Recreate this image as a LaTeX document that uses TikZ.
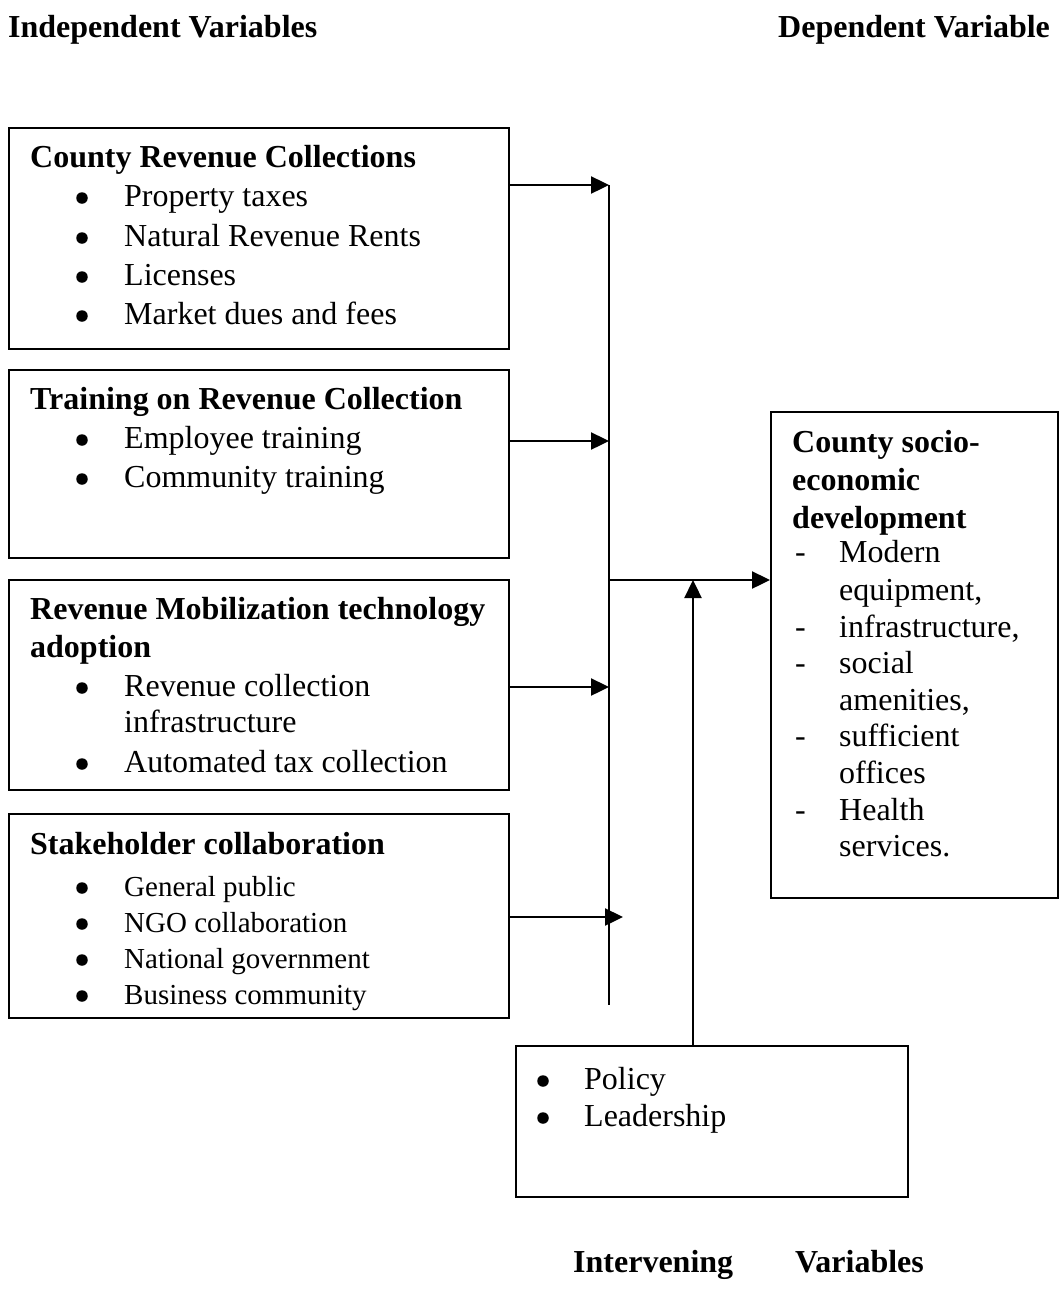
\documentclass[tikz,border=0pt]{standalone}
\usepackage{fontspec}
\setmainfont{Liberation Serif}
\usetikzlibrary{arrows.meta}
\begin{document}
\begin{tikzpicture}[x=1pt,y=-1pt,
  box/.style={draw, line width=1.8pt, inner sep=0pt, anchor=north west},
  txt/.style={anchor=base west, inner sep=0pt, font=\fontsize{32}{38}\selectfont},
  btxt/.style={anchor=base west, inner sep=0pt, font=\fontsize{32}{38}\selectfont\bfseries},
  stxt/.style={anchor=base west, inner sep=0pt, font=\fontsize{29}{35}\selectfont},
  bul/.style={circle, fill, inner sep=0pt, minimum size=11.5pt},
  conn/.style={line width=2.4pt, -{Triangle[length=18pt,width=17pt]}},
  ln/.style={line width=2.4pt}]
\useasboundingbox (0,0) rectangle (1058,1304);

% headers
\node[btxt] (hind) at (8,37) {Independent Variables};
\node[btxt] (hdep) at (778,37) {Dependent Variable};
\node[btxt] (hint1) at (573,1272) {Intervening};
\node[btxt] (hint2) at (795,1272) {Variables};

% boxes
\node[box, minimum width=500pt, minimum height=221pt] (b1) at (8,127) {};
\node[box, minimum width=500pt, minimum height=188pt] (b2) at (8,369) {};
\node[box, minimum width=500pt, minimum height=210pt] (b3) at (8,579) {};
\node[box, minimum width=500pt, minimum height=204pt] (b4) at (8,813) {};
\node[box, minimum width=287pt, minimum height=486pt] (dv) at (770,411) {};
\node[box, minimum width=392pt, minimum height=151pt] (iv) at (515,1045) {};

% box 1
\node[btxt] (t1) at (30,167) {County Revenue Collections};
\node[bul] (b1a) at (82,198) {}; \node[txt] (t1a) at (124,206) {Property taxes};
\node[bul] (b1b) at (82,238) {}; \node[txt] (t1b) at (124,246) {Natural Revenue Rents};
\node[bul] (b1c) at (82,277) {}; \node[txt] (t1c) at (124,285) {Licenses};
\node[bul] (b1d) at (82,316) {}; \node[txt] (t1d) at (124,324) {Market dues and fees};

% box 2
\node[btxt] (t2) at (30,409) {Training on Revenue Collection};
\node[bul] (b2a) at (82,440) {}; \node[txt] (t2a) at (124,448) {Employee training};
\node[bul] (b2b) at (82,479) {}; \node[txt] (t2b) at (124,487) {Community training};

% box 3
\node[btxt] (t3) at (30,619) {Revenue Mobilization technology};
\node[btxt] (t3x) at (30,657) {adoption};
\node[bul] (b3a) at (82,688) {}; \node[txt] (t3a) at (124,696) {Revenue collection};
\node[txt] (t3ax) at (124,732) {infrastructure};
\node[bul] (b3b) at (82,764) {}; \node[txt] (t3b) at (124,772) {Automated tax collection};

% box 4
\node[btxt] (t4) at (30,854) {Stakeholder collaboration};
\node[bul] (b4a) at (82,888) {}; \node[stxt] (t4a) at (124,896) {General public};
\node[bul] (b4b) at (82,924) {}; \node[stxt] (t4b) at (124,932) {NGO collaboration};
\node[bul] (b4c) at (82,960) {}; \node[stxt] (t4c) at (124,968) {National government};
\node[bul] (b4d) at (82,996) {}; \node[stxt] (t4d) at (124,1004) {Business community};

% dependent box
\node[btxt] (d1) at (792,452) {County socio-};
\node[btxt] (d2) at (792,490) {economic};
\node[btxt] (d3) at (792,528) {development};
\node[txt] (da) at (795,562) {-}; \node[txt] (dta) at (839,562) {Modern};
\node[txt] (dtax) at (839,600) {equipment,};
\node[txt] (db) at (795,637) {-}; \node[txt] (dtb) at (839,637) {infrastructure,};
\node[txt] (dc) at (795,673) {-}; \node[txt] (dtc) at (839,673) {social};
\node[txt] (dtcx) at (839,710) {amenities,};
\node[txt] (dd) at (795,746) {-}; \node[txt] (dtd) at (839,746) {sufficient};
\node[txt] (dtdx) at (839,783) {offices};
\node[txt] (de) at (795,820) {-}; \node[txt] (dte) at (839,820) {Health};
\node[txt] (dtex) at (839,856) {services.};

% intervening box
\node[bul] (iba) at (543,1081) {}; \node[txt] (ita) at (584,1089) {Policy};
\node[bul] (ibb) at (543,1118) {}; \node[txt] (itb) at (584,1126) {Leadership};

% connectors
\coordinate (vt) at (609,185);
\coordinate (vb) at (609,1005);
\coordinate (j2) at (609,441);
\coordinate (j3) at (609,687);
\coordinate (j4) at (623,917);
\coordinate (jm) at (609,580);
\coordinate (ia) at (693,580);
\draw[ln] (vt) -- (vb);
\draw[conn] (b1.east |- vt) -- (vt);
\draw[conn] (b2.east |- j2) -- (j2);
\draw[conn] (b3.east |- j3) -- (j3);
\draw[conn] (b4.east |- j4) -- (j4);
\draw[conn] (jm) -- (dv.west |- jm);
\draw[conn] (iv.north -| ia) -- (ia);
\end{tikzpicture}
\end{document}
